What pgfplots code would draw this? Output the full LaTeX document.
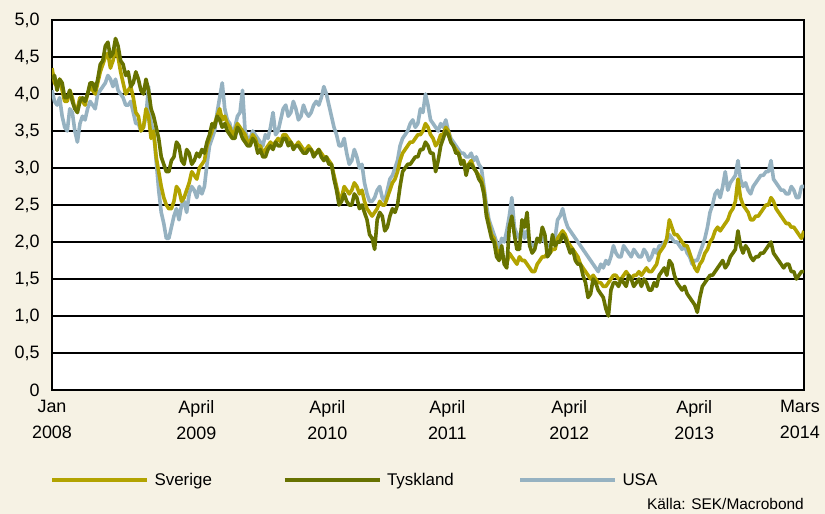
\documentclass[border=0pt]{standalone}
\usepackage{fontspec}
\setmainfont{Liberation Sans}
\usepackage{pgfplots}
\usepackage{pgfplotstable}
\pgfplotsset{compat=1.18}
\definecolor{bg}{RGB}{246,242,228}
\definecolor{sve}{RGB}{178,163,0}
\definecolor{tys}{RGB}{103,114,0}
\definecolor{usa}{RGB}{150,178,193}

\pgfplotstableread{
m S T U
0 4.35 4.20 4.05
0.25 4.15 4.25 3.90
0.5 4.10 4.05 3.85
0.75 4.20 4.20 3.95
1 4.05 4.15 3.70
1.25 3.90 3.95 3.55
1.5 3.90 3.95 3.50
1.75 4.05 4.05 3.80
2 3.95 3.90 3.75
2.25 3.80 3.80 3.50
2.5 3.80 3.75 3.35
2.75 3.95 3.90 3.60
3 3.90 3.95 3.70
3.25 3.85 3.90 3.65
3.5 4.00 4.00 3.80
3.75 4.10 4.15 3.90
4 4.05 4.15 3.85
4.25 4.00 4.05 3.80
4.5 4.15 4.20 4.00
4.75 4.30 4.40 4.05
5 4.40 4.45 4.10
5.25 4.50 4.65 4.15
5.5 4.55 4.70 4.25
5.75 4.35 4.50 4.20
6 4.45 4.55 4.10
6.25 4.60 4.75 4.20
6.5 4.50 4.65 4.05
6.75 4.30 4.45 4.00
7 4.15 4.40 3.95
7.25 4.00 4.25 3.85
7.5 4.05 4.30 3.85
7.75 4.10 4.10 3.90
8 3.95 4.15 3.75
8.25 3.75 4.30 3.60
8.5 3.70 4.20 3.60
8.75 3.50 4.05 3.50
9 3.55 4.00 3.55
9.25 3.80 4.20 3.70
9.5 3.70 4.05 4.10
9.75 3.40 3.80 3.60
10 3.50 3.70 3.50
10.25 3.15 3.55 3.10
10.5 2.95 3.40 2.70
10.75 2.75 3.15 2.40
11 2.60 3.05 2.25
11.25 2.50 2.95 2.05
11.5 2.45 2.95 2.05
11.75 2.45 3.10 2.20
12 2.55 3.15 2.35
12.25 2.75 3.35 2.45
12.5 2.70 3.30 2.30
12.75 2.55 3.10 2.50
13 2.60 3.05 2.55
13.25 2.70 3.25 2.40
13.5 2.80 3.20 2.65
13.75 2.95 3.05 2.75
14 2.90 3.10 2.70
14.25 2.85 3.20 2.60
14.5 3.00 3.15 2.75
14.75 3.05 3.25 2.65
15 3.10 3.20 2.75
15.25 3.30 3.35 3.05
15.5 3.40 3.45 3.30
15.75 3.50 3.60 3.40
16 3.60 3.55 3.50
16.25 3.70 3.70 3.75
16.5 3.80 3.65 3.95
16.75 3.65 3.55 4.15
17 3.70 3.60 3.80
17.25 3.60 3.50 3.65
17.5 3.55 3.45 3.60
17.75 3.45 3.40 3.45
18 3.50 3.40 3.55
18.25 3.60 3.55 3.70
18.5 3.55 3.50 3.75
18.75 3.50 3.40 4.05
19 3.45 3.35 3.50
19.25 3.35 3.30 3.40
19.5 3.35 3.30 3.40
19.75 3.45 3.40 3.50
20 3.40 3.35 3.45
20.25 3.30 3.20 3.40
20.5 3.30 3.25 3.35
20.75 3.20 3.15 3.30
21 3.25 3.15 3.45
21.25 3.30 3.25 3.40
21.5 3.35 3.30 3.55
21.75 3.30 3.25 3.75
22 3.35 3.35 3.45
22.25 3.40 3.30 3.50
22.5 3.35 3.30 3.65
22.75 3.45 3.40 3.80
23 3.45 3.40 3.85
23.25 3.40 3.30 3.70
23.5 3.35 3.35 3.75
23.75 3.30 3.25 3.90
24 3.30 3.30 3.80
24.25 3.35 3.30 3.65
24.5 3.30 3.25 3.70
24.75 3.25 3.20 3.85
25 3.25 3.20 3.75
25.25 3.30 3.25 3.70
25.5 3.25 3.25 3.75
25.75 3.20 3.15 3.85
26 3.20 3.20 3.90
26.25 3.25 3.25 3.85
26.5 3.20 3.15 3.95
26.75 3.15 3.10 4.10
27 3.15 3.15 4.00
27.25 3.10 3.05 3.85
27.5 3.05 3.05 3.70
27.75 2.90 2.85 3.55
28 2.75 2.70 3.45
28.25 2.60 2.50 3.30
28.5 2.60 2.55 3.30
28.75 2.75 2.65 3.40
29 2.70 2.55 3.20
29.25 2.65 2.50 3.05
29.5 2.70 2.50 3.10
29.75 2.80 2.65 3.25
30 2.75 2.60 3.15
30.25 2.65 2.45 3.00
30.5 2.70 2.50 3.05
30.75 2.55 2.40 2.80
31 2.45 2.30 2.65
31.25 2.40 2.10 2.55
31.5 2.35 2.05 2.55
31.75 2.40 1.90 2.60
32 2.45 2.30 2.70
32.25 2.55 2.40 2.75
32.5 2.50 2.35 2.60
32.75 2.50 2.15 2.55
33 2.60 2.20 2.70
33.25 2.70 2.35 2.85
33.5 2.80 2.45 2.90
33.75 2.85 2.40 3.00
34 2.95 2.50 3.10
34.25 3.10 2.75 3.30
34.5 3.20 2.95 3.40
34.75 3.25 3.00 3.45
35 3.30 3.05 3.50
35.25 3.35 3.05 3.60
35.5 3.35 3.10 3.65
35.75 3.40 3.15 3.55
36 3.45 3.15 3.60
36.25 3.45 3.25 3.80
36.5 3.50 3.25 3.75
36.75 3.60 3.35 4.00
37 3.55 3.30 3.85
37.25 3.45 3.20 3.65
37.5 3.40 3.20 3.60
37.75 3.30 2.95 3.55
38 3.35 3.10 3.50
38.25 3.45 3.30 3.60
38.5 3.45 3.40 3.55
38.75 3.55 3.50 3.65
39 3.50 3.45 3.50
39.25 3.35 3.35 3.40
39.5 3.30 3.30 3.35
39.75 3.25 3.20 3.30
40 3.20 3.20 3.25
40.25 3.10 3.05 3.20
40.5 3.10 3.10 3.20
40.75 3.00 2.90 3.15
41 3.05 3.05 3.15
41.25 3.10 3.05 3.20
41.5 3.00 3.00 3.10
41.75 2.95 2.95 3.15
42 2.90 2.85 3.05
42.25 2.85 2.80 3.00
42.5 2.70 2.65 2.75
42.75 2.40 2.35 2.50
43 2.25 2.20 2.30
43.25 2.10 2.05 2.20
43.5 2.05 2.00 2.10
43.75 1.90 1.80 2.00
44 1.85 1.75 1.90
44.25 1.80 1.95 2.05
44.5 1.75 1.70 2.00
44.75 1.70 1.65 2.15
45 1.85 2.20 2.35
45.25 1.80 2.35 2.60
45.5 1.75 2.10 2.20
45.75 1.70 1.90 2.10
46 1.80 1.90 2.05
46.25 1.75 2.30 2.20
46.5 1.75 2.20 2.05
46.75 1.70 2.40 2.15
47 1.65 1.95 2.00
47.25 1.60 1.85 1.95
47.5 1.60 1.90 1.95
47.75 1.70 2.05 2.05
48 1.75 2.00 2.00
48.25 1.80 2.20 2.05
48.5 1.80 2.10 2.00
48.75 1.85 1.80 1.95
49 1.85 1.85 1.95
49.25 1.90 2.10 2.05
49.5 1.90 1.95 2.05
49.75 2.05 2.00 2.30
50 2.10 2.00 2.35
50.25 2.15 2.10 2.45
50.5 2.10 2.05 2.30
50.75 2.00 1.95 2.20
51 1.95 1.85 2.15
51.25 1.90 1.90 2.10
51.5 1.85 1.75 2.05
51.75 1.80 1.70 2.00
52 1.70 1.70 1.95
52.25 1.65 1.55 1.90
52.5 1.60 1.45 1.85
52.75 1.55 1.25 1.80
53 1.50 1.30 1.75
53.25 1.55 1.50 1.70
53.5 1.50 1.45 1.65
53.75 1.45 1.35 1.60
54 1.45 1.30 1.70
54.25 1.40 1.25 1.65
54.5 1.40 1.10 1.75
54.75 1.45 1.00 1.70
55 1.50 1.35 1.80
55.25 1.55 1.45 1.95
55.5 1.55 1.45 1.85
55.75 1.50 1.40 1.80
56 1.50 1.50 1.80
56.25 1.55 1.45 1.95
56.5 1.60 1.40 1.90
56.75 1.55 1.55 1.85
57 1.50 1.50 1.80
57.25 1.55 1.40 1.90
57.5 1.55 1.45 1.85
57.75 1.60 1.50 1.80
58 1.55 1.40 1.80
58.25 1.60 1.50 1.90
58.5 1.65 1.45 1.85
58.75 1.60 1.35 1.75
59 1.60 1.35 1.80
59.25 1.65 1.45 1.90
59.5 1.70 1.40 1.85
59.75 1.85 1.55 1.95
60 1.90 1.60 1.95
60.25 1.95 1.65 2.00
60.5 2.05 1.55 2.00
60.75 2.30 1.75 2.10
61 2.20 1.70 2.05
61.25 2.10 1.55 2.00
61.5 2.10 1.45 2.00
61.75 2.05 1.40 1.95
62 2.00 1.35 1.90
62.25 1.95 1.40 1.95
62.5 1.95 1.30 1.85
62.75 1.85 1.25 1.80
63 1.75 1.20 1.70
63.25 1.65 1.15 1.75
63.5 1.60 1.05 1.75
63.75 1.70 1.25 1.85
64 1.75 1.40 1.95
64.25 1.85 1.45 2.05
64.5 1.90 1.50 2.20
64.75 2.00 1.55 2.40
65 2.05 1.55 2.50
65.25 2.15 1.60 2.65
65.5 2.20 1.65 2.70
65.75 2.15 1.70 2.60
66 2.20 1.75 2.75
66.25 2.25 1.65 2.95
66.5 2.30 1.70 2.70
66.75 2.40 1.80 2.80
67 2.45 1.85 2.85
67.25 2.55 1.90 2.90
67.5 2.85 2.15 3.10
67.75 2.60 1.95 2.85
68 2.50 1.85 2.75
68.25 2.45 1.95 2.80
68.5 2.40 1.90 2.70
68.75 2.30 1.80 2.65
69 2.30 1.75 2.75
69.25 2.35 1.80 2.80
69.5 2.35 1.80 2.85
69.75 2.40 1.85 2.90
70 2.45 1.85 2.90
70.25 2.50 1.90 2.95
70.5 2.50 1.95 2.95
70.75 2.60 2.00 3.10
71 2.55 1.85 2.85
71.25 2.45 1.80 2.80
71.5 2.40 1.75 2.75
71.75 2.35 1.70 2.70
72 2.30 1.65 2.70
72.25 2.25 1.70 2.65
72.5 2.25 1.70 2.65
72.75 2.20 1.60 2.75
73 2.20 1.60 2.70
73.25 2.15 1.50 2.60
73.5 2.10 1.55 2.60
73.75 2.05 1.60 2.75
74 2.15 1.60 2.75
}\data

\begin{document}
\begin{tikzpicture}
\fill[bg] (0bp,0bp) rectangle (825bp,514bp);
\useasboundingbox (0bp,0bp) rectangle (825bp,514bp);
\begin{axis}[
  at={(52bp,124bp)}, anchor=south west,
  width=752bp, height=370bp, scale only axis,
  xmin=0, xmax=74, ymin=0, ymax=5,
  axis background/.style={fill=white},
  axis line style={black, line width=1.3bp},
  ytick={0,0.5,1,1.5,2,2.5,3,3.5,4,4.5,5},
  yticklabels={0,{0,5},{1,0},{1,5},{2,0},{2,5},{3,0},{3,5},{4,0},{4,5},{5,0}},
  ymajorgrids, grid style={black, line width=1.3bp},
  major tick length=0pt,
  xtick={0,14.2,27.1,38.9,50.9,63.2,73.6},
  xticklabels={{Jan\\2008},{April\\2009},{April\\2010},{April\\2011},{April\\2012},{April\\2013},{Mars\\2014}},
  xticklabel style={align=center, font=\fontsize{18}{26}\selectfont, yshift=-7bp},
  yticklabel style={font=\fontsize{18}{24}\selectfont, xshift=-9bp},
  legend columns=3,
  legend style={at={(-0.00266,-0.2432)}, anchor=west, draw=none, fill=none,
    inner sep=0pt, outer sep=0pt, nodes={inner sep=0pt},
    font=\fontsize{17}{20}\selectfont,
    /tikz/every odd column/.append style={column sep=5bp}},
  legend image code/.code={\draw[#1, line width=4.5bp] (0bp,0bp) -- (95bp,0bp);},
]
\addlegendimage{sve}
\addlegendentry{\makebox[128bp][l]{Sverige}}
\addlegendimage{tys}
\addlegendentry{\makebox[131bp][l]{Tyskland}}
\addlegendimage{usa}
\addlegendentry{USA}
\addplot[usa, line width=3.6bp, line join=round, forget plot] table[x=m, y=U] {\data};
\addplot[sve, line width=3.6bp, line join=round, forget plot] table[x=m, y=S] {\data};
\addplot[tys, line width=3.6bp, line join=round, forget plot] table[x=m, y=T] {\data};
\end{axis}
\node[anchor=base east, font=\fontsize{15.5}{18}\selectfont, inner sep=0pt] at (804bp,5bp) {Källa: SEK/Macrobond};
\end{tikzpicture}
\end{document}
